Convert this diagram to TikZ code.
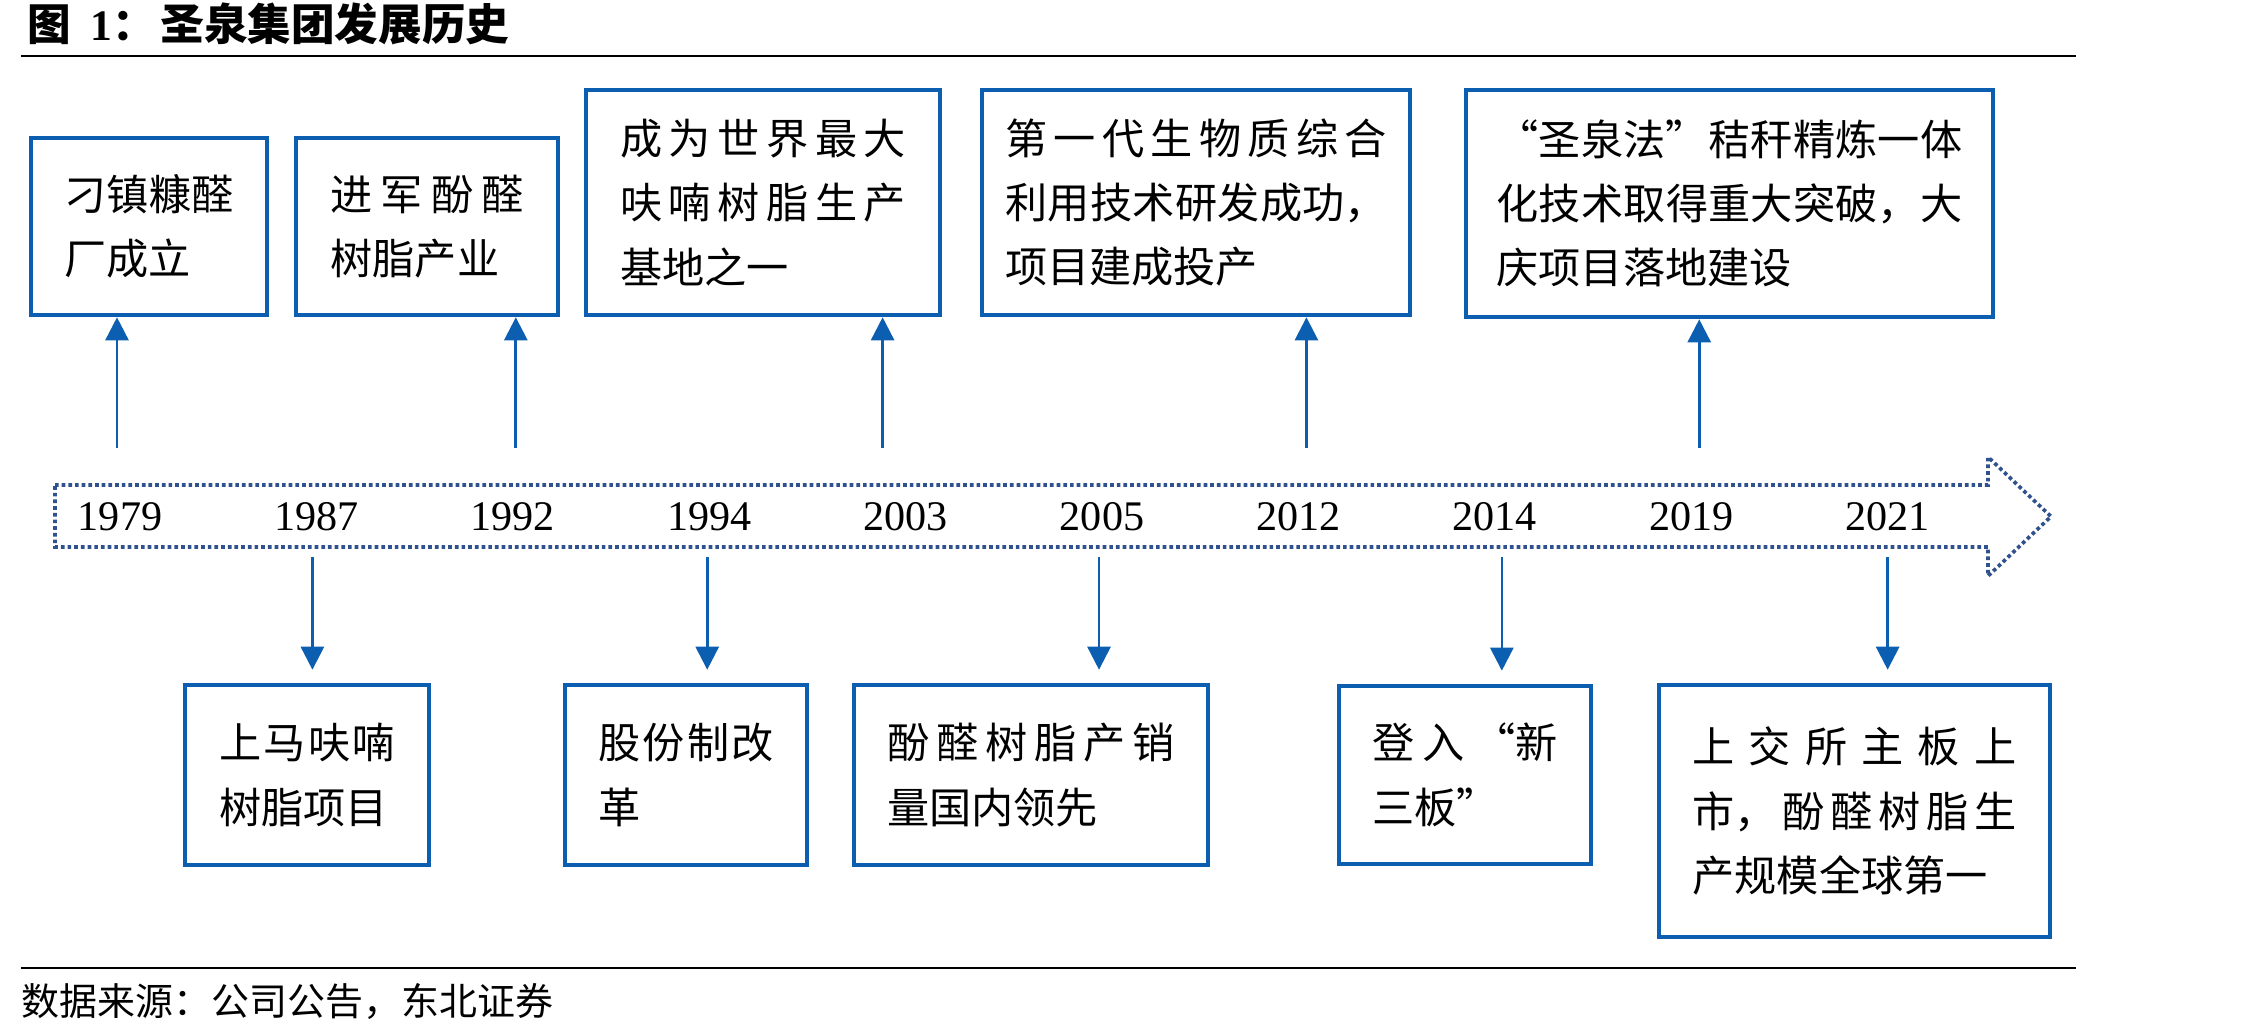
\documentclass[tikz,border=0pt]{standalone}
\usepackage{fontspec}
\setmainfont{Liberation Serif}
\newfontfamily\cjk{Noto Sans CJK SC}
\usetikzlibrary{chains,arrows.meta}
\definecolor{eventblue}{RGB}{12,94,176}
\definecolor{lineblue}{RGB}{47,82,143}
\XeTeXlinebreaklocale "zh"
\XeTeXlinebreakskip=0pt plus 8pt

\begin{document}
\begin{tikzpicture}[
  event node/.style={
    draw=eventblue,
    line width=1.3pt,
    inner sep=0pt,
    align=justify,
    font=\cjk\fontsize{12pt}{18.3pt}\selectfont,
  },
  year node/.style={
    on chain,
    minimum width=1.95cm,
    inner sep=0pt,
    font=\fontsize{12pt}{14pt}\selectfont,
  },
  up arrow/.style={
    draw=eventblue,
    line width=0.75pt,
    -{Triangle[width=0.23cm,length=0.23cm]},
  },
  down arrow/.style={up arrow,shorten >=0.13cm},
  ]
  \useasboundingbox (0,0) rectangle (22.68,-10.35);
  \node[anchor=base west,inner sep=0pt,font=\cjk\bfseries\fontsize{12.4pt}{14pt}\selectfont]
    (title) at (0.27,-0.40) {图\hspace{0.45em}{\rmfamily 1}：\hspace{0.1em}圣泉集团发展历史};
  \path[draw,line width=0.7pt] (0.21,-0.56) -- (20.76,-0.56);
  \path[draw,line width=0.7pt] (0.21,-9.68) -- (20.76,-9.68);
  \node[anchor=base west,inner sep=0pt,font=\cjk\fontsize{10.8pt}{12pt}\selectfont]
    (source) at (0.21,-10.15) {数据来源：公司公告，东北证券};
  \path[draw=lineblue,line width=1.05pt,dash pattern=on 1.05pt off 0.85pt]
    (0.55,-4.85) -- (19.88,-4.85) -- (19.88,-4.57) -- (20.51,-5.165)
    -- (19.88,-5.76) -- (19.88,-5.47) -- (0.55,-5.47) -- cycle;
  \begin{scope}[start chain=going right,node distance=0]
    \node[year node] (year-1979) at (1.20,-5.17) {1979};
    \node[year node] (year-1987) {1987};
    \node[year node] (year-1992) {1992};
    \node[year node] (year-1994) {1994};
    \node[year node] (year-2003) {2003};
    \node[year node] (year-2005) {2005};
    \node[year node] (year-2012) {2012};
    \node[year node] (year-2014) {2014};
    \node[year node] (year-2019) {2019};
    \node[year node] (year-2021) {2021};
  \end{scope}
  \begin{scope}[every node/.append style={event node}]
    \node[minimum width=2.36cm,minimum height=1.77cm,text width=1.70cm]
      (event-1979) at (1.49,-2.265) {刁镇糠醛\linebreak 厂成立};
    \node[minimum width=2.62cm,minimum height=1.77cm,text width=1.93cm]
      (event-1992) at (4.27,-2.265) {进军酚醛\linebreak 树脂产业};
    \node[minimum width=3.54cm,minimum height=2.25cm,text width=2.86cm]
      (event-2003) at (7.63,-2.025) {成为世界最大\linebreak 呋喃树脂生产\linebreak 基地之一};
    \node[minimum width=4.28cm,minimum height=2.25cm,text width=3.82cm]
      (event-2012) at (11.96,-2.025) {第一代生物质综合\linebreak 利用技术研发成功，\linebreak 项目建成投产};
    \node[minimum width=5.27cm,minimum height=2.27cm,text width=4.66cm]
      (event-2019) at (17.295,-2.035) {“圣泉法”秸秆精炼一体\linebreak 化技术取得重大突破，大\linebreak 庆项目落地建设};
    \node[minimum width=2.44cm,minimum height=1.80cm,text width=1.76cm]
      (event-1987) at (3.07,-7.75) {上马呋喃\linebreak 树脂项目};
    \node[minimum width=2.42cm,minimum height=1.80cm,text width=1.76cm]
      (event-1994) at (6.86,-7.75) {股份制改\linebreak 革};
    \node[minimum width=3.54cm,minimum height=1.80cm,text width=2.88cm]
      (event-2005) at (10.31,-7.75) {酚醛树脂产销\linebreak 量国内领先};
    \node[minimum width=2.52cm,minimum height=1.78cm,text width=1.86cm]
      (event-2014) at (14.65,-7.75) {登入“新\linebreak 三板”};
    \node[minimum width=3.91cm,minimum height=2.52cm,text width=3.24cm]
      (event-2021) at (18.545,-8.11) {上交所主板上\linebreak 市，酚醛树脂生\linebreak 产规模全球第一};
  \end{scope}
  \path[up arrow] ([shift={(-0.03,0.69)}]year-1979.center) coordinate (up-1979) -- (up-1979 |- event-1979.south);
  \path[up arrow] ([shift={(0.03,0.69)}]year-1992.center) coordinate (up-1992) -- (up-1992 |- event-1992.south);
  \path[up arrow] ([shift={(-0.23,0.69)}]year-2003.center) coordinate (up-2003) -- (up-2003 |- event-2003.south);
  \path[up arrow] ([shift={(0.08,0.69)}]year-2012.center) coordinate (up-2012) -- (up-2012 |- event-2012.south);
  \path[up arrow] ([shift={(0.08,0.69)}]year-2019.center) coordinate (up-2019) -- (up-2019 |- event-2019.south);
  \path[down arrow] ([shift={(-0.04,-0.40)}]year-1987.center) coordinate (down-1987) -- (down-1987 |- event-1987.north);
  \path[down arrow] ([shift={(-0.02,-0.40)}]year-1994.center) coordinate (down-1994) -- (down-1994 |- event-1994.north);
  \path[down arrow] ([shift={(-0.03,-0.40)}]year-2005.center) coordinate (down-2005) -- (down-2005 |- event-2005.north);
  \path[down arrow] ([shift={(0.07,-0.40)}]year-2014.center) coordinate (down-2014) -- (down-2014 |- event-2014.north);
  \path[down arrow] ([shift={(0,-0.40)}]year-2021.center) coordinate (down-2021) -- (down-2021 |- event-2021.north);
\end{tikzpicture}
\end{document}
